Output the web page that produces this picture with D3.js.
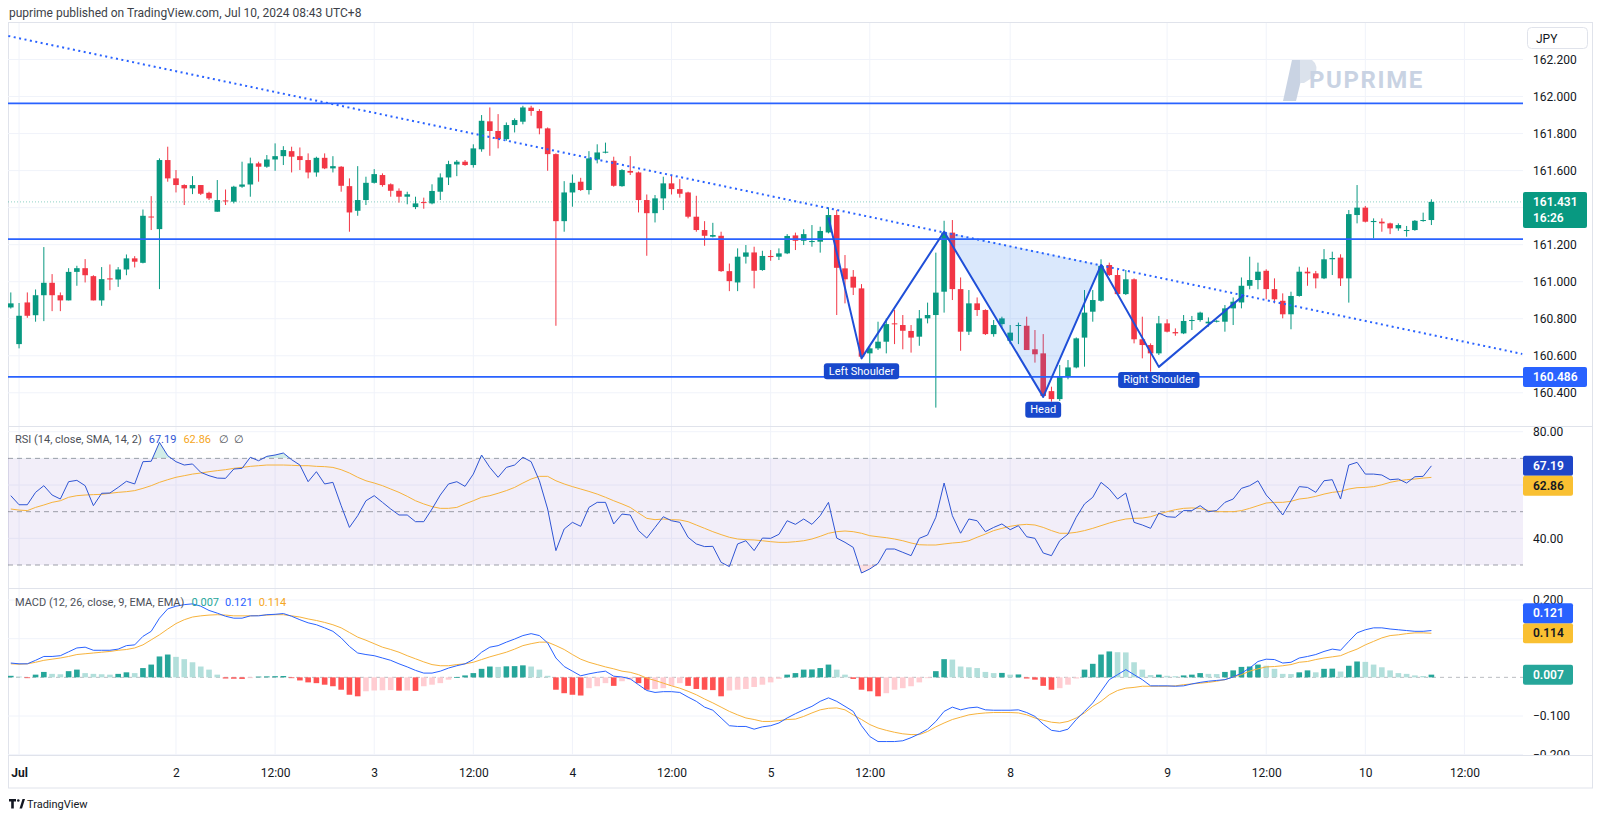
<!DOCTYPE html>
<html><head><meta charset="utf-8">
<script src="https://cdn.jsdelivr.net/npm/d3@7"></script>
<style>
html,body{margin:0;padding:0;background:#fff;}
svg{display:block;font-family:Roboto,"Noto Sans",Arial,sans-serif;}
</style></head><body>
<svg id="c" width="1600" height="819"></svg>
<script>
// ---------------- DATA ----------------
const openV=[160.861,160.663,160.888,160.819,160.927,160.994,160.927,160.899,161.053,161.073,
161.030,160.899,161.018,161.012,161.066,161.126,161.102,161.352,161.284,161.657,
161.558,161.522,161.504,161.522,161.480,161.378,161.439,161.432,161.513,161.525,
161.639,161.621,161.660,161.678,161.705,161.678,161.657,161.590,161.669,161.612,
161.621,161.516,161.383,161.441,161.534,161.576,161.526,161.491,161.459,161.403,
161.430,161.423,161.486,161.563,161.633,161.648,161.630,161.715,161.866,161.814,
161.770,161.846,161.864,161.940,161.922,161.828,161.689,161.327,161.482,161.540,
161.495,161.660,161.698,161.653,161.516,161.598,161.590,161.441,161.370,161.450,
161.531,161.500,161.482,161.351,161.279,161.243,161.248,161.057,160.996,161.135,
161.158,161.063,161.139,161.135,161.153,161.250,161.221,161.214,161.216,161.266,
161.360,161.072,161.027,160.964,160.613,160.640,160.676,160.775,160.766,160.734,
160.703,160.802,160.820,160.946,161.265,160.960,160.730,160.883,160.847,160.717,
160.771,160.681,160.761,160.762,160.635,160.613,160.409,160.366,160.487,160.537,
160.698,160.838,160.897,161.090,161.036,160.933,161.013,160.689,160.658,160.613,
160.775,160.728,160.721,160.788,160.793,160.775,160.784,160.784,160.856,160.888,
160.978,161.009,161.059,160.960,160.897,160.824,160.923,161.054,161.045,161.018,
161.121,161.130,161.018,161.360,161.400,161.322,161.324,161.315,161.288,161.275,
161.279,161.329,161.333];
const highV=[160.942,160.885,160.942,160.958,161.187,161.041,160.942,161.073,161.086,161.122,
161.035,161.079,161.093,161.079,161.147,161.138,161.390,161.462,161.666,161.729,
161.603,161.526,161.570,161.522,161.486,161.549,161.498,161.518,161.648,161.670,
161.648,161.684,161.747,161.732,161.729,161.725,161.693,161.675,161.693,161.678,
161.624,161.558,161.624,161.567,161.608,161.585,161.531,161.504,161.486,161.459,
161.454,161.526,161.585,161.653,161.657,161.657,161.742,161.900,161.941,161.905,
161.860,161.882,161.950,161.950,161.932,161.833,161.693,161.543,161.579,161.561,
161.705,161.742,161.751,161.675,161.608,161.678,161.595,161.471,161.468,161.567,
161.576,161.554,161.486,161.464,161.327,161.318,161.270,161.098,161.180,161.198,
161.189,161.167,161.171,161.180,161.257,161.265,161.283,161.306,161.297,161.401,
161.387,161.144,161.063,160.987,160.658,160.784,160.802,160.847,160.820,160.766,
160.847,160.887,161.157,161.329,161.333,161.023,160.955,160.915,160.851,160.793,
160.811,160.766,160.779,160.811,160.739,160.717,160.433,160.550,160.577,160.699,
160.955,160.955,161.121,161.103,161.063,161.063,161.018,160.811,160.667,160.815,
160.797,160.748,160.820,160.815,160.838,160.807,160.792,160.874,160.915,161.023,
161.135,161.103,161.067,161.018,160.937,160.946,161.081,161.077,161.058,161.176,
161.162,161.148,161.387,161.522,161.409,161.342,161.342,161.319,161.315,161.301,
161.333,161.373,161.445];
const lowV=[160.855,160.640,160.805,160.784,160.787,160.841,160.841,160.899,160.978,160.996,
160.899,160.870,160.954,160.972,161.035,161.077,161.099,161.279,160.960,161.540,
161.482,161.414,161.473,161.468,161.441,161.378,161.414,161.423,161.507,161.459,
161.540,161.615,161.599,161.630,161.590,161.603,161.558,161.567,161.608,161.590,
161.486,161.270,161.356,161.414,161.530,161.513,161.459,161.427,161.418,161.392,
161.394,161.418,161.441,161.522,161.570,161.626,161.616,161.702,161.680,161.720,
161.761,161.806,161.850,161.896,161.796,161.599,160.762,161.270,161.405,161.490,
161.471,161.639,161.693,161.513,161.513,161.576,161.374,161.140,161.320,161.387,
161.471,161.454,161.342,161.270,161.194,161.239,161.053,160.949,160.949,161.098,
160.964,161.059,161.113,161.117,161.149,161.171,161.198,161.189,161.157,161.261,
160.820,160.883,160.928,160.582,160.559,160.631,160.613,160.663,160.635,160.617,
160.654,160.775,160.320,160.833,160.901,160.627,160.712,160.815,160.712,160.703,
160.748,160.663,160.663,160.631,160.563,160.379,160.352,160.356,160.473,160.532,
160.541,160.784,160.892,161.031,160.928,160.928,160.667,160.586,160.514,160.604,
160.726,160.708,160.717,160.739,160.784,160.757,160.780,160.730,160.766,160.856,
160.959,160.959,160.905,160.883,160.802,160.743,160.919,160.978,160.964,161.014,
161.036,160.977,160.887,161.315,161.320,161.234,161.270,161.257,161.275,161.243,
161.275,161.324,161.306];
const closeV=[160.883,160.816,160.816,160.927,160.994,160.927,160.899,161.053,161.073,161.035,
160.899,161.014,161.012,161.066,161.126,161.108,161.356,161.349,161.657,161.558,
161.522,161.504,161.522,161.475,161.450,161.441,161.435,161.513,161.525,161.639,
161.621,161.660,161.678,161.711,161.675,161.657,161.590,161.669,161.612,161.624,
161.518,161.374,161.441,161.534,161.581,161.522,161.491,161.459,161.472,161.423,
161.427,161.490,161.563,161.635,161.648,161.630,161.720,161.869,161.814,161.770,
161.846,161.873,161.941,161.922,161.828,161.689,161.327,161.482,161.534,161.495,
161.666,161.698,161.702,161.518,161.603,161.589,161.441,161.370,161.450,161.531,
161.500,161.475,161.351,161.279,161.248,161.252,161.057,161.003,161.135,161.158,
161.059,161.139,161.133,161.153,161.247,161.221,161.257,161.220,161.274,161.360,
161.075,161.013,160.968,160.595,160.640,160.676,160.771,160.770,160.735,160.698,
160.802,160.820,160.941,161.265,160.960,160.730,160.883,160.847,160.717,160.766,
160.802,160.725,160.766,160.631,160.608,160.383,160.366,160.487,160.537,160.694,
160.833,160.901,161.085,161.036,160.933,161.013,160.689,160.658,160.613,160.775,
160.730,160.721,160.788,160.793,160.833,160.784,160.789,160.856,160.892,160.978,
161.009,161.054,160.960,160.905,160.824,160.923,161.054,161.045,161.018,161.121,
161.128,161.018,161.365,161.400,161.324,161.328,161.315,161.288,161.306,161.279,
161.329,161.333,161.431];
const rsiV=[56.0,52.6,52.6,57.25,59.75,56.25,54.75,61.25,61.75,59.75,
52.25,56.9,57.0,59.1,61.4,60.4,68.75,68.9,76.0,71.0,
68.75,67.5,67.9,64.75,63.5,62.6,62.5,66.0,66.25,70.4,
69.1,70.75,71.25,72.0,69.5,67.5,61.25,65.0,60.4,61.0,
52.25,44.1,48.5,54.1,56.0,53.5,51.0,48.75,48.75,46.25,
46.25,51.0,56.25,60.4,61.25,59.5,64.1,71.25,66.6,62.9,
66.6,67.5,70.4,68.75,61.6,51.0,35.4,43.5,46.0,44.5,
51.6,53.5,53.5,45.4,49.1,48.75,42.9,40.1,44.1,48.1,
46.6,46.0,40.4,37.9,36.9,37.0,31.0,29.4,37.9,39.1,
35.4,40.1,40.0,41.5,46.6,45.25,47.25,45.25,48.5,53.5,
40.1,38.5,36.6,27.0,28.5,30.6,36.0,36.0,34.75,33.5,
40.0,41.25,47.9,60.75,48.5,41.9,47.25,46.6,42.5,44.1,
45.4,43.25,44.75,40.6,40.0,34.5,33.5,39.1,41.6,47.9,
52.9,55.4,61.0,58.5,54.75,57.0,46.0,45.0,43.75,49.5,
48.1,47.9,50.4,50.4,52.25,50.0,50.4,53.5,54.75,58.75,
59.75,61.6,56.25,52.9,48.75,54.1,59.4,59.1,57.25,61.6,
62.0,54.75,67.5,68.5,64.1,64.1,63.75,62.0,62.25,60.75,
63.1,63.25,67.19];
const rsiSmaV=[51.0,50.6,50.4,51.6,52.5,53.5,54.1,55.4,56.0,56.25,
56.4,56.5,56.9,57.25,57.5,57.9,58.75,59.75,61.0,62.0,
62.9,63.5,64.1,64.5,65.0,65.4,65.75,66.25,66.6,67.0,
67.25,67.5,67.5,67.5,67.4,67.25,67.25,67.0,66.9,66.6,
65.75,64.5,62.9,61.6,60.75,59.75,58.5,57.25,55.75,54.1,
52.9,51.9,51.25,51.25,51.6,52.9,54.1,55.4,56.0,56.9,
57.9,59.1,60.75,62.25,63.25,63.25,61.6,60.4,59.4,58.5,
57.6,56.6,55.4,54.1,52.9,51.6,49.5,47.5,47.0,47.25,
47.0,46.9,46.25,45.0,43.75,42.5,41.4,40.4,39.75,39.5,
39.4,39.1,38.75,38.5,38.5,38.75,39.1,39.75,40.75,41.9,
42.5,42.75,42.5,41.9,41.0,40.6,40.25,39.75,39.1,38.25,
37.6,37.5,37.5,37.9,38.25,38.5,39.1,40.4,41.6,42.9,
43.75,44.5,45.0,45.25,45.0,44.1,42.9,41.9,41.9,42.25,
42.9,43.75,44.75,45.75,46.6,47.25,47.5,47.6,48.1,49.1,
50.0,50.75,51.25,51.4,51.25,50.4,50.0,50.0,50.0,50.4,
51.25,52.25,53.25,53.5,53.5,53.9,54.75,55.1,55.75,56.6,
57.25,57.6,58.5,59.0,59.1,59.4,60.1,61.0,61.6,62.0,
62.25,62.6,62.86];
const macdV=[0.037,0.035,0.035,0.044,0.054,0.054,0.056,0.066,0.076,0.078,
0.070,0.070,0.070,0.073,0.082,0.084,0.106,0.119,0.153,0.177,
0.184,0.188,0.190,0.184,0.173,0.166,0.158,0.153,0.153,0.159,
0.159,0.162,0.163,0.165,0.158,0.149,0.141,0.136,0.128,0.119,
0.102,0.080,0.063,0.059,0.056,0.050,0.044,0.035,0.027,0.018,
0.011,0.011,0.016,0.024,0.030,0.035,0.046,0.065,0.078,0.082,
0.091,0.099,0.108,0.113,0.108,0.089,0.050,0.028,0.016,0.004,
0.009,0.013,0.016,0.003,0.001,-0.004,-0.019,-0.034,-0.039,-0.037,
-0.037,-0.039,-0.051,-0.062,-0.077,-0.085,-0.105,-0.125,-0.127,-0.127,
-0.134,-0.128,-0.125,-0.118,-0.105,-0.094,-0.084,-0.075,-0.062,-0.053,
-0.062,-0.075,-0.088,-0.125,-0.153,-0.166,-0.166,-0.166,-0.164,-0.156,
-0.146,-0.134,-0.114,-0.088,-0.077,-0.084,-0.079,-0.077,-0.084,-0.085,
-0.085,-0.085,-0.084,-0.091,-0.101,-0.121,-0.137,-0.140,-0.134,-0.109,
-0.088,-0.066,-0.036,-0.006,0.007,0.020,0.007,-0.006,-0.022,-0.022,
-0.022,-0.023,-0.022,-0.017,-0.013,-0.010,-0.008,-0.006,0.001,0.011,
0.024,0.041,0.047,0.046,0.037,0.039,0.050,0.054,0.059,0.067,
0.073,0.070,0.093,0.115,0.123,0.128,0.128,0.125,0.123,0.121,
0.119,0.119,0.121];
const signalV=[0.035,0.034,0.035,0.039,0.044,0.047,0.050,0.054,0.059,0.061,
0.063,0.065,0.067,0.070,0.072,0.076,0.084,0.097,0.110,0.125,
0.139,0.149,0.156,0.159,0.161,0.162,0.161,0.159,0.159,0.159,
0.160,0.161,0.162,0.162,0.159,0.156,0.151,0.147,0.142,0.136,
0.128,0.116,0.104,0.096,0.087,0.078,0.072,0.065,0.056,0.048,
0.040,0.033,0.030,0.030,0.033,0.035,0.039,0.046,0.053,0.059,
0.065,0.073,0.082,0.087,0.091,0.091,0.082,0.072,0.059,0.047,
0.039,0.033,0.027,0.022,0.016,0.013,0.007,-0.002,-0.008,-0.015,
-0.022,-0.028,-0.036,-0.045,-0.056,-0.066,-0.077,-0.088,-0.097,-0.105,
-0.109,-0.114,-0.114,-0.112,-0.109,-0.108,-0.101,-0.092,-0.084,-0.080,
-0.079,-0.084,-0.097,-0.109,-0.122,-0.131,-0.137,-0.142,-0.146,-0.148,
-0.148,-0.140,-0.128,-0.118,-0.109,-0.103,-0.097,-0.094,-0.092,-0.091,
-0.091,-0.091,-0.092,-0.097,-0.105,-0.111,-0.116,-0.118,-0.114,-0.105,
-0.092,-0.075,-0.062,-0.045,-0.034,-0.028,-0.026,-0.023,-0.023,-0.023,
-0.023,-0.022,-0.019,-0.017,-0.015,-0.013,-0.010,-0.006,0.001,0.007,
0.016,0.022,0.027,0.028,0.030,0.033,0.039,0.041,0.046,0.050,
0.053,0.056,0.065,0.073,0.084,0.093,0.102,0.108,0.110,0.113,
0.115,0.115,0.114];
const histV=[0.004,0.002,-0.002,0.007,0.014,0.009,0.008,0.016,0.020,0.011,
0.009,0.008,0.007,0.009,0.013,0.011,0.024,0.033,0.054,0.059,
0.053,0.047,0.039,0.028,0.020,0.007,-0.003,-0.0035,-0.004,-0.001,
0.002,0.0025,0.003,0.0035,-0.002,-0.008,-0.013,-0.015,-0.019,-0.023,
-0.032,-0.045,-0.049,-0.036,-0.034,-0.0335,-0.033,-0.0345,-0.034,-0.035,
-0.023,-0.019,-0.015,-0.006,0.001,0.005,0.011,0.022,0.028,0.027,
0.0285,0.029,0.031,0.028,0.020,0.004,-0.032,-0.041,-0.045,-0.047,
-0.028,-0.023,-0.015,-0.022,-0.010,-0.006,-0.015,-0.032,-0.030,-0.028,
-0.022,-0.015,-0.022,-0.030,-0.032,-0.033,-0.049,-0.034,-0.032,-0.030,
-0.025,-0.019,-0.013,-0.004,0.007,0.011,0.020,0.0205,0.024,0.033,
0.020,0.007,-0.004,-0.032,-0.036,-0.049,-0.041,-0.032,-0.028,-0.023,
-0.013,-0.002,0.016,0.047,0.046,0.028,0.026,0.024,0.014,0.011,
0.0115,0.007,0.0075,-0.003,-0.006,-0.022,-0.032,-0.028,-0.019,-0.003,
0.020,0.035,0.059,0.067,0.065,0.0645,0.039,0.020,0.006,0.007,
0.004,0.003,0.005,0.007,0.011,0.009,0.0085,0.014,0.018,0.027,
0.028,0.033,0.030,0.022,0.009,0.0085,0.013,0.018,0.013,0.022,
0.0225,0.015,0.030,0.041,0.040,0.033,0.026,0.018,0.011,0.009,
0.005,0.0035,0.007];

// axis ticks
const priceTicks=[160.4,160.6,160.8,161.0,161.2,161.4,161.6,161.8,162.0,162.2];
const rsiGrid=[40,60,80];
const rsiTickLabels=[40,80];
const rsiLevels=[70,50,30];
const macdTicks=[-0.2,-0.1,0,0.1,0.2];
const macdTickLabels=[-0.2,-0.1,0.2];
const timeTickIdx=[1,20,32,44,56,68,80,92,104,121,140,152,164,176];
const timeTickLabels=["Jul","2","12:00","3","12:00","4","12:00","5","12:00","8","9","12:00","10","12:00"];

// drawings
const hLevels=[161.963,161.230,160.486];
const trendPts=[[-0.3,162.327],[183,160.61]];
const hsPts=[[99,161.347],[103,160.586],[113,161.270],[125,160.378],[132,161.090],[139,160.540],[149.3,160.928]];
const hsFill=[[113,161.270],[125,160.378],[132,161.090]];
const hsLabels=[{t:"Left Shoulder",p:[103,160.586]},{t:"Head",p:[125,160.378]},{t:"Right Shoulder",p:[139,160.540]}];
const lastPrice=161.431, countdown="16:26", supportLabel=160.486;

// ---------------- LAYOUT ----------------
const L=8,R=1523,AXX=1533;
const P={t:23,b:426},RS={t:426,b:588},MC={t:588,b:755};
const UP="#089981",DN="#f23645",GRID="#f0f3fa",SEP="#e0e3eb",TXT="#131722";
const svg=d3.select("#c");
const x=d3.scaleLinear().domain([0,172]).range([10.8,1431.4]);
const yP=d3.scaleLinear().domain([160.4,162.2]).range([392.8,59.5]);
const yR=d3.scaleLinear().domain([30,80]).range([565,431.7]);
const yM=d3.scaleLinear().domain([-0.2,0.2]).range([754.7,600]);
const idx=d3.range(openV.length);

const defs=svg.append("defs");
function clip(id,y0,y1){defs.append("clipPath").attr("id",id).append("rect").attr("x",L).attr("y",y0).attr("width",R-L).attr("height",y1-y0);}
clip("cp",P.t,P.b);clip("cr",RS.t,RS.b);clip("cm",MC.t,MC.b);
defs.append("clipPath").attr("id","crOB").append("rect").attr("x",L).attr("y",RS.t).attr("width",R-L).attr("height",yR(70)-RS.t);
defs.append("clipPath").attr("id","crOS").append("rect").attr("x",L).attr("y",yR(30)).attr("width",R-L).attr("height",RS.b-yR(30));
defs.append("clipPath").attr("id","cmAx").append("rect").attr("x",0).attr("y",MC.t).attr("width",80).attr("height",MC.b-MC.t);

// header
svg.append("text").attr("x",9).attr("y",17).attr("font-size",12).attr("fill","#3c3f48")
  .text("puprime published on TradingView.com, Jul 10, 2024 08:43 UTC+8");

// frame
svg.append("rect").attr("x",L+0.5).attr("y",22.5).attr("width",1592-L).attr("height",788-22.5).attr("fill","none").attr("stroke",SEP);

// grids
const g0=svg.append("g");
g0.selectAll("line.v").data(timeTickIdx).join("line").attr("class","v").attr("x1",d=>x(d)).attr("x2",d=>x(d)).attr("y1",P.t).attr("y2",MC.b).attr("stroke",GRID);
g0.selectAll("line.hp").data(priceTicks).join("line").attr("class","hp").attr("x1",L).attr("x2",R).attr("y1",d=>yP(d)).attr("y2",d=>yP(d)).attr("stroke",GRID);
svg.append("g").selectAll("line").data(rsiGrid).join("line").attr("x1",L).attr("x2",R).attr("y1",d=>yR(d)).attr("y2",d=>yR(d)).attr("stroke",GRID);
svg.append("g").selectAll("line").data(macdTicks.filter(d=>d!==0)).join("line").attr("x1",L).attr("x2",R).attr("y1",d=>yM(d)).attr("y2",d=>yM(d)).attr("stroke",GRID);
[RS.t,MC.t,MC.b].forEach(yv=>svg.append("line").attr("x1",L).attr("x2",1592).attr("y1",yv+0.5).attr("y2",yv+0.5).attr("stroke",SEP));

// ---------------- PRICE PANE ----------------
const pp=svg.append("g").attr("clip-path","url(#cp)");
pp.append("line").attr("x1",L).attr("x2",R).attr("y1",yP(lastPrice)).attr("y2",yP(lastPrice))
  .attr("stroke",UP).attr("stroke-opacity",0.45).attr("stroke-dasharray","1 2");
const cg=pp.append("g");
cg.selectAll("line").data(idx).join("line")
  .attr("x1",i=>x(i)).attr("x2",i=>x(i)).attr("y1",i=>yP(highV[i])).attr("y2",i=>yP(lowV[i]))
  .attr("stroke",i=>closeV[i]>=openV[i]?UP:DN).attr("stroke-width",1);
cg.selectAll("rect").data(idx).join("rect")
  .attr("x",i=>x(i)-2.8).attr("width",5.6)
  .attr("y",i=>yP(Math.max(openV[i],closeV[i])))
  .attr("height",i=>Math.max(1,Math.abs(yP(openV[i])-yP(closeV[i]))))
  .attr("fill",i=>closeV[i]>=openV[i]?UP:DN);
pp.selectAll("line.lv").data(hLevels).join("line").attr("class","lv").attr("x1",L).attr("x2",R)
  .attr("y1",d=>yP(d)).attr("y2",d=>yP(d)).attr("stroke","#2962ff").attr("stroke-width",1.6);
pp.append("line").attr("x1",x(trendPts[0][0])).attr("y1",yP(trendPts[0][1])).attr("x2",x(trendPts[1][0])).attr("y2",yP(trendPts[1][1]))
  .attr("stroke","#2962ff").attr("stroke-width",2).attr("stroke-dasharray","2 3.5");
pp.append("path").attr("d",d3.line().x(d=>x(d[0])).y(d=>yP(d[1]))(hsFill)+"Z").attr("fill","rgba(33,120,240,0.17)");
pp.append("path").attr("d",d3.line().x(d=>x(d[0])).y(d=>yP(d[1]))(hsPts)).attr("fill","none")
  .attr("stroke","#1f4fd8").attr("stroke-width",2).attr("stroke-linejoin","round");
const lg=svg.append("g");
hsLabels.forEach(o=>{
  const cx=x(o.p[0]),ty=yP(o.p[1])+5;
  const t=lg.append("text").attr("x",cx).attr("y",ty+11.5).attr("text-anchor","middle").attr("font-size",11).attr("fill","#fff").text(o.t);
  const w=t.node().getComputedTextLength()+10;
  lg.insert("rect","text").attr("x",cx-w/2).attr("y",ty).attr("width",w).attr("height",16).attr("rx",3).attr("fill","#1848cc");
});

// watermark
const wm=svg.append("g").attr("fill","#c9d3e3");
wm.append("path").attr("d","M1292,60 L1306,60 L1296,101 L1283,101 Z");
wm.append("path").attr("d","M1300,60 L1312,60 Q1319,65 1315,76 L1304,83 L1300,83 Z").attr("fill","#dbe2ec");
wm.append("text").attr("x",1309).attr("y",88).attr("font-size",24).attr("font-weight",700).attr("letter-spacing",1.6).text("PUPRIME");

// ---------------- RSI PANE ----------------
const rp=svg.append("g").attr("clip-path","url(#cr)");
rp.append("rect").attr("x",L).attr("width",R-L).attr("y",yR(70)).attr("height",yR(30)-yR(70)).attr("fill","rgba(126,87,194,0.1)");
rp.selectAll("line.lv").data(rsiLevels).join("line").attr("x1",L).attr("x2",R).attr("y1",d=>yR(d)).attr("y2",d=>yR(d))
  .attr("stroke","#787b86").attr("stroke-dasharray","5 4").attr("stroke-opacity",0.7);
const rLine=d3.line().x((d,i)=>x(i)).y(d=>yR(d));
rp.append("path").attr("clip-path","url(#crOB)").attr("d",d3.area().x((d,i)=>x(i)).y0(yR(70)).y1(d=>yR(d))(rsiV)).attr("fill","rgba(8,153,129,0.18)");
rp.append("path").attr("clip-path","url(#crOS)").attr("d",d3.area().x((d,i)=>x(i)).y0(yR(30)).y1(d=>yR(d))(rsiV)).attr("fill","rgba(242,54,69,0.15)");
rp.append("path").attr("d",rLine(rsiSmaV)).attr("fill","none").attr("stroke","#f7b33c").attr("stroke-width",1);
rp.append("path").attr("d",rLine(rsiV)).attr("fill","none").attr("stroke","#2f55d4").attr("stroke-width",1);

// ---------------- MACD PANE ----------------
const mp=svg.append("g").attr("clip-path","url(#cm)");
mp.append("line").attr("x1",L).attr("x2",R).attr("y1",yM(0)).attr("y2",yM(0)).attr("stroke","#787b86").attr("stroke-opacity",0.5).attr("stroke-dasharray","4 4");
function hcol(i){const v=histV[i],p=i>0?histV[i-1]:v;
  if(v>=0) return v>=p?"#26a69a":"#b2dfdb"; return v<p?"#ff5252":"#ffcdd2";}
mp.selectAll("rect").data(idx).join("rect")
  .attr("x",i=>x(i)-2.8).attr("width",5.6)
  .attr("y",i=>Math.min(yM(0),yM(histV[i]))).attr("height",i=>Math.max(0.8,Math.abs(yM(histV[i])-yM(0))))
  .attr("fill",hcol);
const mLine=d3.line().x((d,i)=>x(i)).y(d=>yM(d));
mp.append("path").attr("d",mLine(signalV)).attr("fill","none").attr("stroke","#f7b33c").attr("stroke-width",1);
mp.append("path").attr("d",mLine(macdV)).attr("fill","none").attr("stroke","#2962ff").attr("stroke-width",1);

// ---------------- AXES ----------------
function styleAxis(g){g.select(".domain").remove();g.selectAll("line").remove();g.selectAll("text").attr("fill",TXT).attr("font-size",12).attr("font-family","Roboto,'Noto Sans',Arial,sans-serif");}
// price labels hidden where the last-price / level boxes cover them
const boxesP=[[yP(lastPrice)-10,yP(lastPrice)+26],[yP(supportLabel)-10,yP(supportLabel)+10]];
const visPriceTicks=priceTicks.filter(t=>!boxesP.some(b=>yP(t)>b[0]-5&&yP(t)<b[1]+5));
svg.append("g").attr("transform",`translate(${AXX},0)`).call(d3.axisRight(yP).tickValues(visPriceTicks).tickFormat(d3.format(".3f")).tickSize(0).tickPadding(0)).call(styleAxis);
svg.append("g").attr("transform",`translate(${AXX},0)`).call(d3.axisRight(yR).tickValues(rsiTickLabels).tickFormat(d3.format(".2f")).tickSize(0).tickPadding(0)).call(styleAxis);
svg.append("g").attr("clip-path","url(#cmAxW)").append("g").attr("transform",`translate(${AXX},0)`).call(d3.axisRight(yM).tickValues(macdTickLabels).tickFormat(d3.format(".3f")).tickSize(0).tickPadding(0)).call(styleAxis);
defs.append("clipPath").attr("id","cmAxW").append("rect").attr("x",AXX-5).attr("y",MC.t).attr("width",80).attr("height",MC.b-MC.t);
const ta=svg.append("g").attr("transform",`translate(0,${MC.b})`).call(d3.axisBottom(x).tickValues(timeTickIdx).tickFormat((d,i)=>timeTickLabels[i]).tickSize(0).tickPadding(13)).call(styleAxis);
ta.selectAll("text").filter((d,i)=>timeTickLabels[i]==="Jul").attr("font-weight",700);

// JPY button
svg.append("rect").attr("x",1527.5).attr("y",27.5).attr("width",60).attr("height",21).attr("rx",4).attr("fill","#fff").attr("stroke",SEP);
svg.append("text").attr("x",1536).attr("y",42.5).attr("font-size",12).attr("fill",TXT).text("JPY");

// value boxes
function box(y0,h,w,fill,lines,tc){
  svg.append("rect").attr("x",1523).attr("y",y0).attr("width",w).attr("height",h).attr("rx",2).attr("fill",fill);
  lines.forEach((t,k)=>svg.append("text").attr("x",AXX).attr("y",y0+14+k*16.5).attr("font-size",12).attr("font-weight",600).attr("fill",tc).text(t));
}
box(yP(lastPrice)-10,36,64,UP,[d3.format(".3f")(lastPrice),countdown],"#fff");
box(yP(supportLabel)-10,20,64,"#2962ff",[d3.format(".3f")(supportLabel)],"#fff");
const rLast=rsiV[rsiV.length-1],sLast=rsiSmaV[rsiSmaV.length-1];
box(yR(rLast)-10,20,50,"#1e45c8",[d3.format(".2f")(rLast)],"#fff");
box(yR(rLast)+10,20,50,"#f9c032",[d3.format(".2f")(sLast)],TXT);
const mLast=macdV[macdV.length-1],sgLast=signalV[signalV.length-1],hLast=histV[histV.length-1];
box(yM(sgLast)-10,20,50,"#f9c032",[d3.format(".3f")(sgLast)],TXT);
box(yM(sgLast)-30,20,50,"#2962ff",[d3.format(".3f")(mLast)],"#fff");
box(yM(hLast)-10,20,50,"#26a69a",[d3.format(".3f")(hLast)],"#fff");

// legends (chained so the parts never overlap)
function legend(y,parts){
  let cx=15;
  parts.forEach(p=>{
    const t=svg.append("text").attr("x",cx).attr("y",y).attr("font-size",11).attr("fill",p[1]).text(p[0]);
    cx+=t.node().getComputedTextLength()+p[2];
  });
}
legend(443,[["RSI (14, close, SMA, 14, 2)","#4c4f57",7],[d3.format(".2f")(rLast),"#2f55d4",7],[d3.format(".2f")(sLast),"#f5a623",8],["∅","#4c4f57",5],["∅","#4c4f57",0]]);
legend(606,[["MACD (12, 26, close, 9, EMA, EMA)","#4c4f57",7],[d3.format(".3f")(hLast),"#26a69a",6],[d3.format(".3f")(mLast),"#2962ff",6],[d3.format(".3f")(sgLast),"#f5a623",0]]);

// TradingView logo
const tv=svg.append("g").attr("fill","#131722");
tv.append("path").attr("d","M9,799 h7 v2.5 h-2.2 v7 h-2.6 v-7 h-2.2 Z");
tv.append("circle").attr("cx",18.3).attr("cy",800.5).attr("r",1.3);
tv.append("path").attr("d","M19.5,808.5 L22.5,799 L25,799 L22,808.5 Z");
svg.append("text").attr("x",27).attr("y",808).attr("font-size",11).attr("fill","#131722").text("TradingView");
</script>
</body></html>
